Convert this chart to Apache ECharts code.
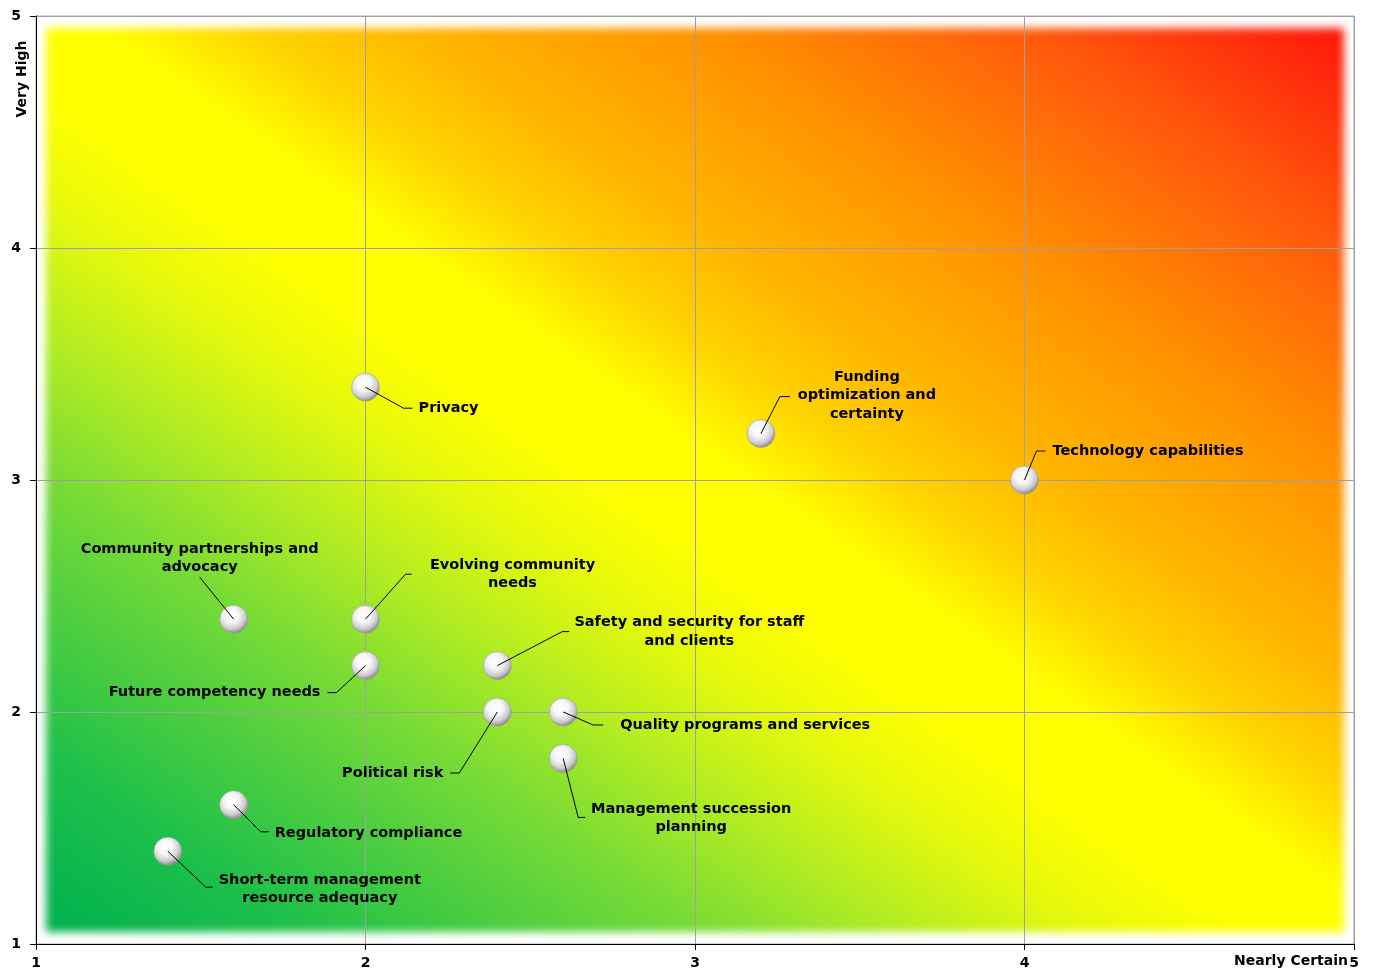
<!DOCTYPE html>
<html>
<head>
<meta charset="utf-8">
<title>Risk map</title>
<script src="https://cdn.jsdelivr.net/npm/echarts@6/dist/echarts.min.js"></script>
<style>
  html, body { margin: 0; padding: 0; background: #ffffff; }
  #chart { width: 1374px; height: 970px; }
</style>
</head>
<body>
<div id="chart"></div>
<script>
// ---- Risk data: likelihood (x) and impact (y), both on a 1-5 scale ----
const riskNames = [
  'Privacy',
  'Funding\noptimization and\ncertainty',
  'Technology capabilities',
  'Community partnerships and\nadvocacy',
  'Evolving community\nneeds',
  'Future competency needs',
  'Safety and security for staff\nand clients',
  'Political risk',
  'Quality programs and services',
  'Management succession\nplanning',
  'Regulatory compliance',
  'Short-term management\nresource adequacy'
];
const likelihood = [2.0, 3.2, 4.0, 1.6, 2.0, 2.0, 2.4, 2.4, 2.6, 2.6, 1.6, 1.4];
const impact     = [3.4, 3.2, 3.0, 2.4, 2.4, 2.2, 2.2, 2.0, 2.0, 1.8, 1.6, 1.4];
const scaleTicks = [1, 2, 3, 4, 5];
const xAxisTitle = 'Nearly Certain';
const yAxisTitle = 'Very High';

// ---- Label placement (pixel offsets from each marker centre) ----
// elbow: bend of the leader line, tick: end of the short horizontal stub,
// text: anchor of the label block, align: horizontal alignment of the block
const labelPlacement = [
  { elbow: [38, 21],   tick: [47, 21],   text: [53, 21],    align: 'left' },
  { elbow: [19, -37],  tick: [29, -37],  text: [106, -38],  align: 'center' },
  { elbow: [12, -29],  tick: [21, -29],  text: [28, -29],   align: 'left' },
  { elbow: [-34, -42], tick: null,       text: [-34, -61],  align: 'center' },
  { elbow: [40, -45],  tick: [46, -45],  text: [147, -45],  align: 'center' },
  { elbow: [-29, 27],  tick: [-38, 27],  text: [-45, 27],   align: 'right' },
  { elbow: [65, -34],  tick: [72, -34],  text: [192, -34],  align: 'center' },
  { elbow: [-38, 61],  tick: [-47, 61],  text: [-54, 61],   align: 'right' },
  { elbow: [30, 13],   tick: [40, 13],   text: [57, 13],    align: 'left' },
  { elbow: [15, 59],   tick: [22, 59],   text: [128, 60],   align: 'center' },
  { elbow: [27, 27],   tick: [35, 27],   text: [41, 28],    align: 'left' },
  { elbow: [38, 36],   tick: [45, 36],   text: [152, 38],   align: 'center' }
];

const FONT = '"DejaVu Sans", Verdana, sans-serif';
const points = likelihood.map((x, i) => [x, impact[i], i]);

// Heat colours along the diagonal (0 = low/low corner, 1 = high/high corner)
const heatStops = [
  [0.00, [0, 176, 80]],
  [0.10, [30, 192, 74]],
  [0.25, [118, 218, 54]],
  [0.33, [178, 236, 34]],
  [0.40, [228, 248, 12]],
  [0.46, [255, 255, 0]],
  [0.52, [255, 255, 0]],
  [0.58, [255, 210, 0]],
  [0.64, [255, 182, 0]],
  [0.75, [255, 146, 0]],
  [0.88, [255, 88, 12]],
  [1.00, [255, 22, 10]]
];

function heatColour(t) {
  for (let k = 1; k < heatStops.length; k++) {
    if (t <= heatStops[k][0]) {
      const a = heatStops[k - 1], b = heatStops[k];
      const f = (t - a[0]) / (b[0] - a[0]);
      return [0, 1, 2].map(c => a[1][c] + (b[1][c] - a[1][c]) * f);
    }
  }
  return heatStops[heatStops.length - 1][1];
}

// Soft-edged gradient panel that sits behind the plot
function buildBackdrop(w, h) {
  const inset = { l: 10, t: 12, r: 10, b: 12 };
  const iw = Math.round(w - inset.l - inset.r);
  const ih = Math.round(h - inset.t - inset.b);
  const src = document.createElement('canvas');
  src.width = iw; src.height = ih;
  const sctx = src.getContext('2d');
  const img = sctx.createImageData(iw, ih);
  for (let y = 0; y < ih; y++) {
    const v = 1 - y / (ih - 1);
    for (let x = 0; x < iw; x++) {
      const u = x / (iw - 1);
      const c = heatColour((u + v) / 2);
      const p = (y * iw + x) * 4;
      img.data[p] = c[0]; img.data[p + 1] = c[1]; img.data[p + 2] = c[2]; img.data[p + 3] = 255;
    }
  }
  sctx.putImageData(img, 0, 0);
  const out = document.createElement('canvas');
  out.width = Math.round(w); out.height = Math.round(h);
  const octx = out.getContext('2d');
  octx.filter = 'blur(4px)';
  octx.drawImage(src, inset.l, inset.t);
  return out;
}

const chart = echarts.init(document.getElementById('chart'), null, { renderer: 'canvas' });

const tickLabel = { color: '#000', fontFamily: FONT, fontWeight: 'bold', fontSize: 14 };

const option = {
  animation: false,
  backgroundColor: '#ffffff',
  grid: {
    left: 36, right: 20, top: 16, bottom: 26,
    show: true, borderColor: '#a6a6a6', borderWidth: 1, backgroundColor: 'transparent'
  },
  xAxis: {
    type: 'value', min: scaleTicks[0], max: scaleTicks[scaleTicks.length - 1], interval: 1,
    axisLine: { show: true, lineStyle: { color: '#000', width: 1 } },
    axisTick: { show: true, length: 6, lineStyle: { color: '#000' } },
    axisLabel: Object.assign({ margin: 12 }, tickLabel),
    splitLine: { show: true, lineStyle: { color: '#a0a0a0', width: 1 } }
  },
  yAxis: {
    type: 'value', min: scaleTicks[0], max: scaleTicks[scaleTicks.length - 1], interval: 1,
    axisLine: { show: true, lineStyle: { color: '#000', width: 1 } },
    axisTick: { show: true, length: 6, lineStyle: { color: '#000' } },
    axisLabel: Object.assign({ margin: 15 }, tickLabel),
    splitLine: { show: true, lineStyle: { color: '#a0a0a0', width: 1 } }
  },
  series: [
    {
      type: 'scatter',
      name: 'Risks',
      data: points,
      symbol: 'circle',
      symbolSize: 28,
      z: 3,
      itemStyle: {
        opacity: 1,
        color: {
          type: 'radial', x: 0.42, y: 0.36, r: 0.64,
          colorStops: [
            { offset: 0, color: '#ffffff' },
            { offset: 0.4, color: '#f6f6f6' },
            { offset: 0.75, color: '#cdcdcd' },
            { offset: 1, color: '#888888' }
          ]
        },
        borderColor: '#9c9c9c',
        borderWidth: 0.6
      },
      emphasis: { disabled: true }
    },
    {
      type: 'custom',
      name: 'Labels',
      data: points,
      z: 4,
      clip: false,
      silent: true,
      renderItem: function (params, api) {
        const i = params.dataIndex;
        const c = api.coord([api.value(0), api.value(1)]);
        const L = labelPlacement[i];
        const pts = [c, [c[0] + L.elbow[0], c[1] + L.elbow[1]]];
        if (L.tick) pts.push([c[0] + L.tick[0], c[1] + L.tick[1]]);
        return {
          type: 'group',
          children: [
            {
              type: 'polyline',
              shape: { points: pts },
              style: { stroke: '#000', lineWidth: 1, fill: null }
            },
            {
              type: 'text',
              x: c[0] + L.text[0],
              y: c[1] + L.text[1],
              style: {
                text: riskNames[i],
                fill: '#000',
                fontFamily: FONT,
                fontWeight: 'bold',
                fontSize: 14.5,
                lineHeight: 18.5,
                align: L.align,
                verticalAlign: 'middle'
              }
            }
          ]
        };
      }
    }
  ]
};

chart.setOption(option);

// Backdrop and axis titles, positioned from the grid's pixel extent
const tl = chart.convertToPixel({ gridIndex: 0 }, [scaleTicks[0], scaleTicks[scaleTicks.length - 1]]);
const br = chart.convertToPixel({ gridIndex: 0 }, [scaleTicks[scaleTicks.length - 1], scaleTicks[0]]);
const gw = br[0] - tl[0], gh = br[1] - tl[1];

chart.setOption({
  graphic: [
    {
      type: 'image', x: tl[0], y: tl[1], z: -10, silent: true,
      style: { image: buildBackdrop(gw, gh), width: gw, height: gh }
    },
    {
      type: 'text', x: tl[0] - 14, y: tl[1] + 63, rotation: Math.PI / 2, silent: true,
      style: { text: yAxisTitle, fill: '#000', fontFamily: FONT, fontWeight: 'bold', fontSize: 14,
               align: 'center', verticalAlign: 'middle' }
    },
    {
      type: 'text', x: br[0] - 6, y: br[1] + 17, silent: true,
      style: { text: xAxisTitle, fill: '#000', fontFamily: FONT, fontWeight: 'bold', fontSize: 14,
               align: 'right', verticalAlign: 'middle' }
    }
  ]
});
</script>
</body>
</html>
